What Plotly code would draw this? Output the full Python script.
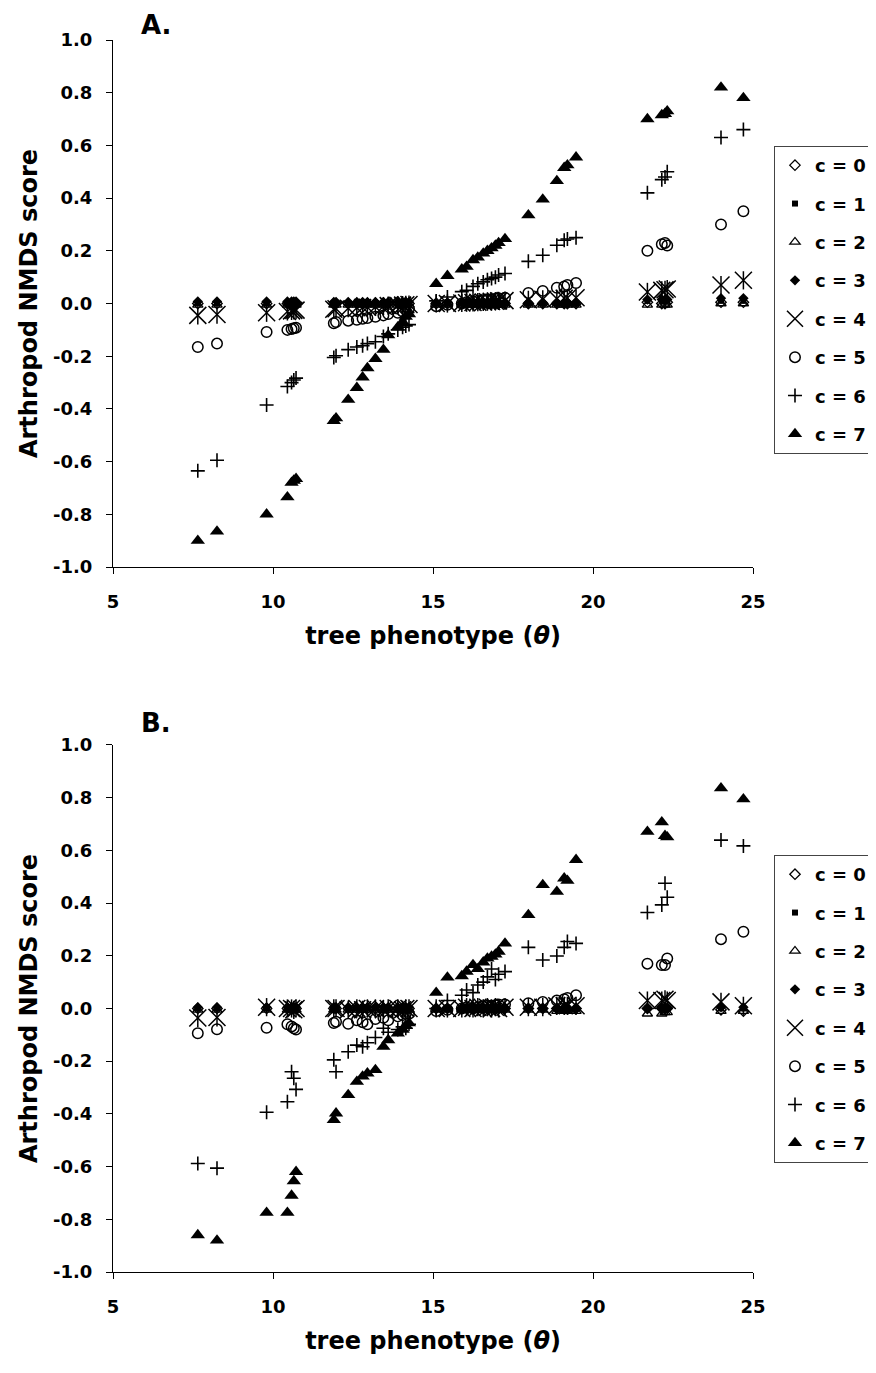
import plotly.graph_objects as go

# ---------------- data ----------------
tree_phenotype = [
    7.65, 8.25,
    9.8, 10.45, 10.58, 10.65, 10.72,
    11.9, 11.97, 12.35, 12.62, 12.8, 12.95, 13.2, 13.45, 13.6, 13.9, 14.05, 14.15, 14.25,
    15.1, 15.45, 15.9, 16.05, 16.25, 16.4, 16.57, 16.7, 16.83, 16.95, 17.05, 17.25, 17.98, 18.43, 18.87, 19.1, 19.2, 19.47,
    21.7, 22.15, 22.25, 22.32,
    24.0, 24.7,
]

# Panel A
a_c0 = [0.0, 0.0,
        0.0, 0.0, 0.0, 0.0, 0.0,
        0.0, 0.0, 0.0, 0.0, 0.0, 0.0, 0.0, 0.0, 0.0, 0.0, 0.0, 0.0, 0.0,
        0.0, 0.0, 0.0, 0.0, 0.0, 0.0, 0.0, 0.0, 0.0, 0.0, 0.0, 0.0, 0.0, 0.0, 0.0, 0.0, 0.0, 0.0,
        0.005, 0.0, 0.0, 0.005,
        0.005, 0.005]
a_c1 = [0.002, 0.002,
        0.0, 0.0, 0.0, 0.0, 0.0,
        0.0, 0.0, 0.0, 0.0, 0.0, 0.0, 0.0, 0.0, 0.0, 0.0, 0.0, 0.0, 0.0,
        0.0, 0.0, 0.0, 0.0, 0.0, 0.0, 0.0, 0.0, 0.0, 0.0, 0.0, 0.0, 0.0, 0.0, 0.0, 0.0, 0.0, 0.0,
        0.01, 0.01, 0.01, 0.01,
        0.01, 0.01]
a_c2 = [-0.005, -0.005,
        -0.005, -0.005, -0.005, -0.005, -0.005,
        -0.005, -0.005, -0.005, -0.005, -0.005, -0.005, -0.005, -0.005, -0.005, -0.005, -0.005, -0.005, -0.005,
        -0.005, -0.005, -0.005, -0.005, -0.005, -0.005, -0.005, -0.005, -0.005, -0.005, -0.005, -0.005, -0.005, -0.005, -0.005, -0.005, -0.005, -0.005,
        -0.005, -0.005, -0.005, -0.005,
        0.0, 0.0]
a_c3 = [0.008, 0.008,
        0.008, 0.008, 0.008, 0.008, 0.008,
        0.006, 0.006, 0.006, 0.006, 0.006, 0.006, 0.006, 0.006, 0.006, 0.006, 0.006, 0.006, 0.006,
        0.004, 0.004, 0.004, 0.004, 0.004, 0.004, 0.004, 0.004, 0.004, 0.004, 0.004, 0.004, 0.004, 0.004, 0.004, 0.004, 0.004, 0.004,
        0.015, 0.015, 0.015, 0.015,
        0.02, 0.02]
a_c4 = [-0.045, -0.042,
        -0.035, -0.03, -0.028, -0.026, -0.025,
        -0.022, -0.02, -0.018, -0.016, -0.015, -0.014, -0.012, -0.01, -0.008, -0.007, -0.006, -0.005, -0.004,
        0.0, 0.0, 0.002, 0.003, 0.004, 0.005, 0.006, 0.007, 0.008, 0.009, 0.01, 0.011, 0.014, 0.016, 0.018, 0.02, 0.021, 0.022,
        0.044, 0.05, 0.052, 0.055,
        0.07, 0.088]
a_c5 = [-0.165, -0.152,
        -0.108, -0.10, -0.097, -0.094, -0.092,
        -0.075, -0.07, -0.065, -0.062, -0.058, -0.055, -0.05, -0.045, -0.04, -0.035, -0.03, -0.025, -0.02,
        -0.01, -0.005, 0.0, 0.005, 0.008, 0.01, 0.012, 0.014, 0.016, 0.018, 0.02, 0.022, 0.04, 0.048, 0.06, 0.065, 0.07, 0.078,
        0.20, 0.225, 0.23, 0.22,
        0.30, 0.35]
a_c6 = [-0.635, -0.595,
        -0.385, -0.315, -0.30, -0.29, -0.283,
        -0.205, -0.198, -0.175, -0.165, -0.16, -0.152, -0.145, -0.125, -0.115, -0.10, -0.09, -0.085, -0.08,
        0.01, 0.025, 0.045, 0.05, 0.065, 0.075, 0.082, 0.09, 0.095, 0.10, 0.108, 0.114, 0.16, 0.183, 0.221, 0.24, 0.245, 0.25,
        0.42, 0.47, 0.48, 0.50,
        0.63, 0.66]
a_c7 = [-0.90, -0.865,
        -0.80, -0.735, -0.68, -0.672, -0.665,
        -0.445, -0.435, -0.365, -0.32, -0.28, -0.245, -0.21, -0.175, -0.12, -0.09, -0.07, -0.05, -0.04,
        0.075, 0.105, 0.13, 0.14, 0.165, 0.175, 0.19, 0.20, 0.21, 0.22, 0.23, 0.245, 0.335, 0.395, 0.465, 0.515, 0.525, 0.555,
        0.70, 0.715, 0.72, 0.73,
        0.82, 0.78]

# Panel B
b_c0 = [0.0, 0.0,
        0.0, 0.0, 0.0, 0.0, 0.0,
        0.0, 0.0, 0.0, 0.0, 0.0, 0.0, 0.0, 0.0, 0.0, 0.0, 0.0, 0.0, 0.0,
        0.0, 0.0, 0.0, 0.0, 0.0, 0.0, 0.0, 0.0, 0.0, 0.0, 0.0, 0.0, 0.0, 0.0, 0.0, 0.0, 0.0, 0.0,
        0.0, 0.0, 0.0, 0.0,
        -0.005, -0.01]
b_c1 = [0.0, 0.0,
        0.0, 0.0, 0.0, 0.0, 0.0,
        0.0, 0.0, 0.0, 0.0, 0.0, 0.0, 0.0, 0.0, 0.0, 0.0, 0.0, 0.0, 0.0,
        0.0, 0.0, 0.0, 0.0, 0.0, 0.0, 0.0, 0.0, 0.0, 0.0, 0.0, 0.0, 0.0, 0.0, 0.0, 0.0, 0.0, 0.0,
        0.0, 0.0, 0.0, 0.0,
        0.0, 0.0]
b_c2 = [-0.005, -0.005,
        -0.005, -0.005, -0.005, -0.005, -0.005,
        -0.005, -0.005, -0.005, -0.005, -0.005, -0.005, -0.005, -0.005, -0.005, -0.005, -0.005, -0.005, -0.005,
        -0.005, -0.005, -0.005, -0.005, -0.005, -0.005, -0.005, -0.005, -0.005, -0.005, -0.005, -0.005, -0.005, -0.005, -0.01, -0.01, -0.01, -0.01,
        -0.02, -0.02, -0.015, -0.015,
        -0.01, -0.01]
b_c3 = [0.005, 0.005,
        0.005, 0.005, 0.005, 0.005, 0.005,
        0.005, 0.005, 0.005, 0.005, 0.005, 0.005, 0.005, 0.005, 0.005, 0.005, 0.005, 0.005, 0.005,
        0.0, 0.0, 0.0, 0.0, 0.0, 0.0, 0.0, 0.0, 0.0, 0.0, 0.0, 0.0, 0.0, 0.0, 0.0, 0.0, 0.0, 0.0,
        0.0, 0.0, 0.0, 0.0,
        0.005, 0.005]
b_c4 = [-0.036, -0.034,
        0.005, 0.0, 0.0, -0.005, 0.0,
        0.0, 0.0, -0.005, 0.0, -0.005, 0.0, 0.0, -0.005, 0.0, 0.0, -0.005, 0.0, 0.0,
        0.0, 0.0, 0.0, 0.005, 0.0, 0.005, 0.0, 0.005, 0.0, 0.005, 0.0, 0.005, 0.005, 0.005, 0.01, 0.01, 0.01, 0.01,
        0.03, 0.03, 0.035, 0.03,
        0.025, 0.01]
b_c5 = [-0.094, -0.079,
        -0.073, -0.06, -0.068, -0.075, -0.08,
        -0.055, -0.05, -0.058, -0.045, -0.052, -0.06, -0.04, -0.035, -0.045, -0.03, -0.025, -0.02, -0.02,
        -0.01, -0.005, 0.0, 0.005, 0.0, 0.005, 0.008, 0.01, 0.01, 0.012, 0.015, 0.015, 0.02, 0.025, 0.03, 0.035, 0.04, 0.05,
        0.17, 0.165, 0.165, 0.19,
        0.263, 0.291]
b_c6 = [-0.588, -0.606,
        -0.394, -0.354, -0.24, -0.265, -0.307,
        -0.195, -0.24, -0.164, -0.139, -0.145, -0.13, -0.11, -0.075, -0.09, -0.08, -0.07, -0.075, -0.06,
        0.0, 0.03, 0.05, 0.07, 0.06, 0.089, 0.10, 0.12, 0.15, 0.11, 0.13, 0.14, 0.232, 0.184, 0.199, 0.232, 0.254, 0.247,
        0.364, 0.393, 0.475, 0.422,
        0.639, 0.617]
b_c7 = [-0.86, -0.88,
        -0.775, -0.775, -0.71, -0.655, -0.62,
        -0.423, -0.398, -0.328, -0.278, -0.258, -0.246, -0.233, -0.145, -0.12, -0.094, -0.08, -0.065, -0.056,
        0.06, 0.118, 0.123, 0.14, 0.165, 0.15, 0.175, 0.19, 0.197, 0.205, 0.216, 0.247, 0.355, 0.469, 0.443, 0.494, 0.485, 0.564,
        0.671, 0.707, 0.655, 0.65,
        0.836, 0.794]

series_names = ["c = 0", "c = 1", "c = 2", "c = 3", "c = 4", "c = 5", "c = 6", "c = 7"]
panel_a = [a_c0, a_c1, a_c2, a_c3, a_c4, a_c5, a_c6, a_c7]
panel_b = [b_c0, b_c1, b_c2, b_c3, b_c4, b_c5, b_c6, b_c7]

x_ticks = [5, 10, 15, 20, 25]
y_ticks = [-1.0, -0.8, -0.6, -0.4, -0.2, 0.0, 0.2, 0.4, 0.6, 0.8, 1.0]
y_ticktext = ["-1.0", "-0.8", "-0.6", "-0.4", "-0.2", "0.0", "0.2", "0.4", "0.6", "0.8", "1.0"]

# ---------------- styles ----------------
K = "black"
marker_styles = [
    dict(symbol="diamond-open", size=8, color=K, line=dict(width=1.3, color=K)),
    dict(symbol="square", size=6, color=K, line=dict(width=0)),
    dict(symbol="triangle-up-open", size=9, color=K, line=dict(width=1.3, color=K)),
    dict(symbol="diamond", size=8, color=K, line=dict(width=0)),
    dict(symbol="x-thin", size=17, color=K, line=dict(width=1.5, color=K)),
    dict(symbol="circle-open", size=10.5, color=K, line=dict(width=1.5, color=K)),
    dict(symbol="cross-thin", size=10, color=K, line=dict(width=1.6, color=K)),
    dict(symbol="triangle-up", size=12.5, color=K, line=dict(width=0)),
]

FONT = "'DejaVu Sans', Verdana, sans-serif"

fig = go.Figure()

for panel_idx, (panel, xa, ya, leg) in enumerate(
        [(panel_a, "x", "y", "legend"), (panel_b, "x2", "y2", "legend2")]):
    for i, (name, ys) in enumerate(zip(series_names, panel)):
        fig.add_trace(go.Scatter(
            x=tree_phenotype, y=ys, mode="markers", name=name,
            marker=marker_styles[i], xaxis=xa, yaxis=ya, legend=leg,
            legendgroup=f"{panel_idx}-{i}", cliponaxis=False,
        ))
        if i == 4:
            # vertical arm of the six-armed asterisk
            fig.add_trace(go.Scatter(
                x=tree_phenotype, y=ys, mode="markers", name=name,
                marker=dict(symbol="line-ns", size=13, color=K, line=dict(width=1.5, color=K)),
                xaxis=xa, yaxis=ya, showlegend=False, legend=leg,
                legendgroup=f"{panel_idx}-{i}", cliponaxis=False,
            ))

axis_common = dict(
    showline=True, linecolor=K, linewidth=1, ticks="outside", ticklen=6,
    tickwidth=1, tickcolor=K, showgrid=False, zeroline=False,
    tickfont=dict(family=FONT, size=18, color=K, weight="bold"),
)
xtitle = dict(text="tree phenotype (<i>θ</i>)",
              font=dict(family=FONT, size=24, color=K, weight="bold"), standoff=16)
ytitle = dict(text="Arthropod NMDS score",
              font=dict(family=FONT, size=24, color=K, weight="bold"), standoff=8)

dom_a = [0.5722, 1.0]
dom_b = [0.0, 0.4278]

legend_style = dict(xanchor="left", yanchor="top",
                    bordercolor="#444", borderwidth=1, bgcolor="white",
                    font=dict(family=FONT, size=18, color=K, weight="bold"),
                    tracegroupgap=12, traceorder="grouped", itemsizing="trace")

# page body has an 8px margin; the figure is sized so the page never scrolls
fig.update_layout(
    width=868, height=1357,
    margin=dict(l=105, r=123, t=32, b=93, autoexpand=False),
    paper_bgcolor="white", plot_bgcolor="white",
    font=dict(family=FONT, color=K),
    xaxis=dict(range=[5, 25], tickvals=x_ticks, anchor="y", title=xtitle, ticklabelstandoff=12, **axis_common),
    yaxis=dict(range=[-1, 1], domain=dom_a, tickvals=y_ticks, ticktext=y_ticktext, anchor="x",
               title=ytitle, ticklabelstandoff=10, **axis_common),
    xaxis2=dict(range=[5, 25], tickvals=x_ticks, anchor="y2", title=xtitle, ticklabelstandoff=12, **axis_common),
    yaxis2=dict(range=[-1, 1], domain=dom_b, tickvals=y_ticks, ticktext=y_ticktext, anchor="x2",
                title=ytitle, ticklabelstandoff=10, **axis_common),
    legend=dict(x=1.0328, y=0.914, **legend_style),
    legend2=dict(x=1.0328, y=0.3385, **legend_style),
    annotations=[
        dict(text="A.", xref="paper", yref="paper", x=(139 - 113) / 640, y=1264 / 1232,
             xanchor="left", yanchor="top", showarrow=False,
             font=dict(family=FONT, size=26, color=K, weight="bold")),
        dict(text="B.", xref="paper", yref="paper", x=(139 - 113) / 640, y=(1264 - 698) / 1232,
             xanchor="left", yanchor="top", showarrow=False,
             font=dict(family=FONT, size=26, color=K, weight="bold")),
    ],
)

fig.write_html("out.html")
